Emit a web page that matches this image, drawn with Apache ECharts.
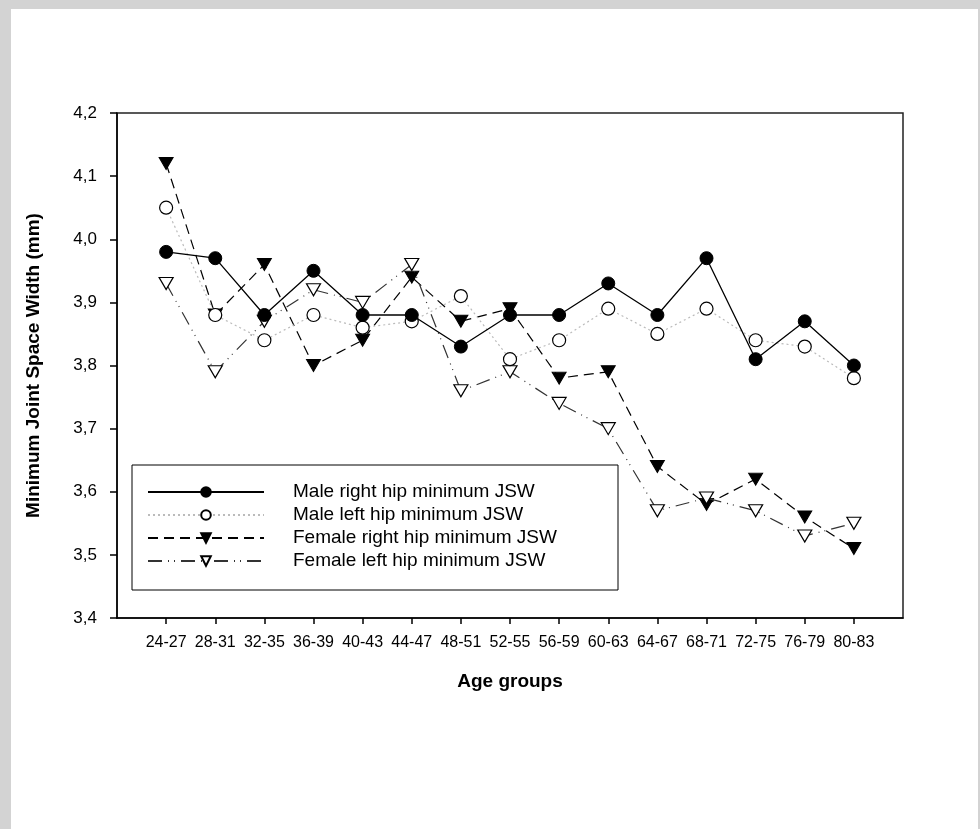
<!DOCTYPE html>
<html>
<head>
<meta charset="utf-8">
<script src="https://cdn.jsdelivr.net/npm/echarts@6/dist/echarts.min.js"></script>
<style>
  html, body { margin: 0; padding: 0; }
  #chart { width: 980px; height: 829px; }
</style>
</head>
<body>
<div id="chart"></div>
<script>
'use strict';
// age groups on the x axis
const ageGroups = ['24-27', '28-31', '32-35', '36-39', '40-43', '44-47', '48-51', '52-55',
    '56-59', '60-63', '64-67', '68-71', '72-75', '76-79', '80-83'];
const seriesNames = ['Male right hip minimum JSW', 'Male left hip minimum JSW',
    'Female right hip minimum JSW', 'Female left hip minimum JSW'];
const maleRight = [3.98, 3.97, 3.88, 3.95, 3.88, 3.88, 3.83, 3.88, 3.88, 3.93, 3.88, 3.97, 3.81, 3.87, 3.80];
const maleLeft = [4.05, 3.88, 3.84, 3.88, 3.86, 3.87, 3.91, 3.81, 3.84, 3.89, 3.85, 3.89, 3.84, 3.83, 3.78];
const femaleRight = [4.12, 3.88, 3.96, 3.80, 3.84, 3.94, 3.87, 3.89, 3.78, 3.79, 3.64, 3.58, 3.62, 3.56, 3.51];
const femaleLeft = [3.93, 3.79, 3.87, 3.92, 3.90, 3.96, 3.76, 3.79, 3.74, 3.70, 3.57, 3.59, 3.57, 3.53, 3.55];
const yTicks = [3.4, 3.5, 3.6, 3.7, 3.8, 3.9, 4.0, 4.1, 4.2];

const font = "'Liberation Sans', Arial, sans-serif";

// x positions 1..15, axis runs 0..16
function pairs(values) {
    return values.map((v, i) => [i + 1, v]);
}

function init() {
    const chart = echarts.init(document.getElementById('chart'));
    const option = {
        backgroundColor: '#d3d3d3',
        animation: false,
        graphic: [{
            type: 'rect',
            z: -10,
            silent: true,
            shape: { x: 11, y: 9, width: 967, height: 820 },
            style: { fill: '#ffffff' }
        }],
        grid: {
            left: 117,
            right: 77,
            top: 113,
            bottom: 211,
            show: true,
            borderColor: '#222',
            borderWidth: 1.5,
            backgroundColor: 'transparent'
        },
        legend: {
            orient: 'vertical',
            left: 132,
            top: 465,
            data: seriesNames,
            backgroundColor: '#ffffff',
            borderColor: '#000',
            borderWidth: 1,
            padding: [16, 15, 18, 15],
            itemWidth: 116,
            itemHeight: 12,
            itemGap: 1,
            textStyle: {
                fontFamily: font,
                fontSize: 19,
                color: '#000',
                lineHeight: 22,
                width: 310,
                padding: [0, 0, 0, 24]
            }
        },
        xAxis: {
            type: 'value',
            min: 0,
            max: 16,
            interval: 1,
            splitLine: { show: false },
            axisLine: { show: true, onZero: false, lineStyle: { color: '#000', width: 1.5 } },
            axisTick: {
                show: true,
                customValues: ageGroups.map((g, i) => i + 1),
                length: 6,
                lineStyle: { color: '#000', width: 1.5 }
            },
            axisLabel: {
                customValues: ageGroups.map((g, i) => i + 1),
                formatter: (v) => ageGroups[v - 1] || '',
                margin: 17,
                fontFamily: font,
                fontSize: 16,
                color: '#000'
            },
            name: 'Age groups',
            nameLocation: 'middle',
            nameGap: 54,
            nameTextStyle: {
                fontFamily: font,
                fontSize: 19,
                fontWeight: 'bold',
                color: '#000'
            }
        },
        yAxis: {
            type: 'value',
            min: yTicks[0],
            max: yTicks[yTicks.length - 1],
            interval: 0.1,
            splitLine: { show: false },
            axisLine: { show: true, onZero: false, lineStyle: { color: '#000', width: 1.5 } },
            axisTick: { show: true, length: 7, lineStyle: { color: '#000', width: 1.5 } },
            axisLabel: {
                formatter: (v) => v.toFixed(1).replace('.', ','),
                margin: 20,
                fontFamily: font,
                fontSize: 17,
                color: '#000'
            },
            name: 'Minimum Joint Space Width (mm)',
            nameLocation: 'middle',
            nameRotate: 90,
            nameGap: 74,
            nameTextStyle: {
                fontFamily: font,
                fontSize: 19,
                fontWeight: 'bold',
                color: '#000'
            }
        },
        series: [
            {
                name: seriesNames[2],
                type: 'line',
                data: pairs(femaleRight),
                symbol: 'triangle',
                symbolRotate: 180,
                symbolSize: [14, 12],
                itemStyle: { color: '#000', borderColor: '#000', borderWidth: 1 },
                lineStyle: { color: '#000', width: 1.2, type: [10, 6] },
                z: 3
            },
            {
                name: seriesNames[3],
                type: 'line',
                data: pairs(femaleLeft),
                symbol: 'triangle',
                symbolRotate: 180,
                symbolSize: [14, 12],
                itemStyle: { color: '#fff', borderColor: '#000', borderWidth: 1.2 },
                lineStyle: { color: '#333', width: 1.2, type: [14, 6, 1, 5, 1, 6] },
                z: 4
            },
            {
                name: seriesNames[1],
                type: 'line',
                data: pairs(maleLeft),
                symbol: 'circle',
                symbolSize: 13,
                itemStyle: { color: '#fff', borderColor: '#000', borderWidth: 1.2 },
                lineStyle: { color: '#bbb', width: 1.2, type: [2, 3] },
                z: 5
            },
            {
                name: seriesNames[0],
                type: 'line',
                data: pairs(maleRight),
                symbol: 'circle',
                symbolSize: 13,
                itemStyle: { color: '#000', borderColor: '#000', borderWidth: 1 },
                lineStyle: { color: '#000', width: 1.3, type: 'solid' },
                z: 6
            }
        ]
    };
    chart.setOption(option);
}

(function () {
    init();
})();
</script>
</body>
</html>
